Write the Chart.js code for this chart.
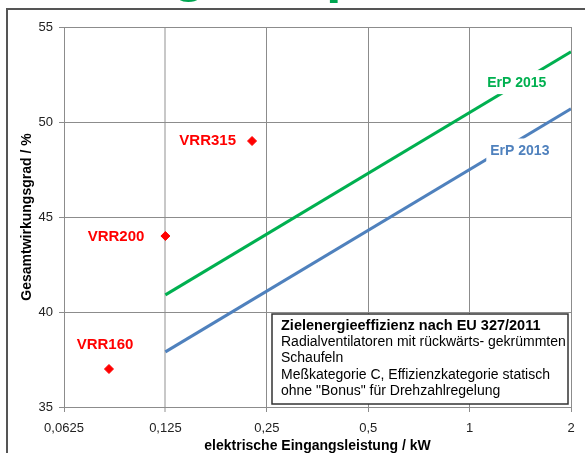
<!DOCTYPE html>
<html>
<head>
<meta charset="utf-8">
<script src="https://cdn.jsdelivr.net/npm/chart.js@4.4.0/dist/chart.umd.min.js"></script>
<style>
  html, body { margin: 0; padding: 0; background: #fff; }
  #wrap { position: relative; width: 585px; height: 453px; overflow: hidden; font-family: "Liberation Sans", Arial, sans-serif; }
  #frame { position: absolute; left: 6px; top: 8px; width: 620px; height: 480px; border: 2px solid #555; box-sizing: border-box; }
  #head { position: absolute; left: 0; top: 0; width: 585px; height: 4px; overflow: hidden; }
  #head span { position: absolute; font-weight: bold; font-size: 56px; line-height: 56px; color: #00a651; }
  canvas { position: absolute; left: 0; top: 0; }
</style>
</head>
<body>
<div id="wrap">
  <div id="frame"></div>
  <div id="head"><span style="left:172px; top:-57px;">g</span><span style="left:326px; top:-56px;">p</span></div>
  <canvas id="chart" width="585" height="453"></canvas>
</div>
<script>
// x axis (log2), values in kW
const xTicks = [0.0625, 0.125, 0.25, 0.5, 1, 2];
const xTickLabels = ['0,0625', '0,125', '0,25', '0,5', '1', '2'];
const yMin = 35, yMax = 55, yStep = 5;

// target efficiency lines (EU 327/2011)
const erp2015Power = [0.125, 2];
const erp2015Eff = [40.9, 53.7];
const erp2013Power = [0.125, 2];
const erp2013Eff = [37.9, 50.7];

// measured fans
const fanNames = ['VRR160', 'VRR200', 'VRR315'];
const fanPower = [0.085, 0.125, 0.226];
const fanEff = [37, 44, 49];

const infoLines = [
  'Zielenergieeffizienz nach EU 327/2011',
  'Radialventilatoren mit rückwärts- gekrümmten',
  'Schaufeln',
  'Meßkategorie C, Effizienzkategorie statisch',
  'ohne "Bonus" für Drehzahlregelung'
];

const FONT = '"Liberation Sans", Arial, sans-serif';
const GREEN = '#00b050';
const BLUE = '#4f81bd';
const RED = '#ff0000';

const toXY = (xs, ys) => xs.map((x, i) => ({ x: x, y: ys[i] }));

// labels + info box drawn on top of the datasets
const annotations = {
  id: 'annotations',
  afterDatasetsDraw(chart) {
    const ctx = chart.ctx;
    const xs = chart.scales.x, ys = chart.scales.y;
    const area = chart.chartArea;
    ctx.save();

    // ErP labels with white background (they hide the lines)
    const erpLabels = [
      { text: 'ErP 2015', x: 1.38, y: 52.1, color: GREEN },
      { text: 'ErP 2013', x: 1.41, y: 48.5, color: BLUE }
    ];
    ctx.font = 'bold 14px ' + FONT;
    ctx.textAlign = 'center';
    ctx.textBaseline = 'middle';
    erpLabels.forEach(l => {
      const px = xs.getPixelForValue(l.x), py = ys.getPixelForValue(l.y);
      const w = ctx.measureText(l.text).width;
      ctx.fillStyle = '#fff';
      ctx.fillRect(px - w / 2 - 4, py - 12, w + 8, 24);
      ctx.fillStyle = l.color;
      ctx.fillText(l.text, px, py + 1);
    });

    // fan labels
    const offsets = [[-4, -24, 'center'], [-21, 1, 'right'], [-16, 0, 'right']];
    ctx.font = 'bold 15px ' + FONT;
    ctx.fillStyle = RED;
    fanNames.forEach((name, i) => {
      const px = xs.getPixelForValue(fanPower[i]), py = ys.getPixelForValue(fanEff[i]);
      ctx.textAlign = offsets[i][2];
      ctx.fillText(name, px + offsets[i][0], py + offsets[i][1]);
    });

    // info box
    const bx = area.right - 299, by = area.bottom - 93, bw = 296, bh = 90;
    ctx.fillStyle = '#fff';
    ctx.fillRect(bx, by, bw, bh);
    ctx.strokeStyle = '#333';
    ctx.lineWidth = 1.5;
    ctx.strokeRect(bx, by, bw, bh);
    ctx.textAlign = 'left';
    ctx.fillStyle = '#000';
    infoLines.forEach((t, i) => {
      ctx.font = (i === 0 ? 'bold 14.5px ' : '14px ') + FONT;
      ctx.fillText(t, bx + 9, by + 12 + i * 16.3);
    });
    ctx.restore();
  }
};

new Chart(document.getElementById('chart'), {
  type: 'scatter',
  data: {
    datasets: [
      {
        label: 'ErP 2015',
        data: toXY(erp2015Power, erp2015Eff),
        showLine: true,
        borderColor: GREEN,
        borderWidth: 3,
        pointRadius: 0
      },
      {
        label: 'ErP 2013',
        data: toXY(erp2013Power, erp2013Eff),
        showLine: true,
        borderColor: BLUE,
        borderWidth: 3,
        pointRadius: 0
      },
      {
        label: 'Ventilatoren',
        data: toXY(fanPower, fanEff),
        pointStyle: 'rectRot',
        pointRadius: 4.5,
        backgroundColor: RED,
        borderColor: RED,
        borderWidth: 1
      }
    ]
  },
  options: {
    responsive: false,
    animation: false,
    layout: { padding: { top: 27, right: 14, left: 0, bottom: 0 } },
    plugins: { legend: { display: false }, tooltip: { enabled: false } },
    scales: {
      x: {
        type: 'logarithmic',
        min: xTicks[0],
        max: xTicks[xTicks.length - 1],
        afterBuildTicks: s => { s.ticks = xTicks.map(v => ({ value: v })); },
        afterFit: s => { s.height = 46; },
        ticks: {
          callback: (v, i) => xTickLabels[i],
          color: '#222',
          font: { family: FONT, size: 13 },
          padding: 9,
          maxRotation: 0,
          autoSkip: false
        },
        grid: {
          color: c => (c.tick && c.tick.value === 0.125 ? '#c8c8c8' : '#8c8c8c'),
          lineWidth: c => (c.tick && c.tick.value === 0.125 ? 2 : 1),
          tickLength: 5
        },
        border: { display: false },
        title: {
          display: true,
          text: 'elektrische Eingangsleistung / kW',
          color: '#000',
          font: { family: FONT, size: 14, weight: 'bold', lineHeight: 1 },
          padding: { top: 0, bottom: 0 }
        }
      },
      y: {
        min: yMin,
        max: yMax,
        afterFit: s => { s.width = 64; },
        ticks: {
          stepSize: yStep,
          color: '#222',
          font: { family: FONT, size: 13 },
          padding: 6
        },
        grid: { color: '#8c8c8c', lineWidth: 1, tickLength: 5 },
        border: { display: false },
        title: {
          display: true,
          text: 'Gesamtwirkungsgrad / %',
          color: '#000',
          font: { family: FONT, size: 14, weight: 'bold', lineHeight: 1 },
          padding: { top: 20, bottom: 0 }
        }
      }
    }
  },
  plugins: [annotations]
});
</script>
</body>
</html>
